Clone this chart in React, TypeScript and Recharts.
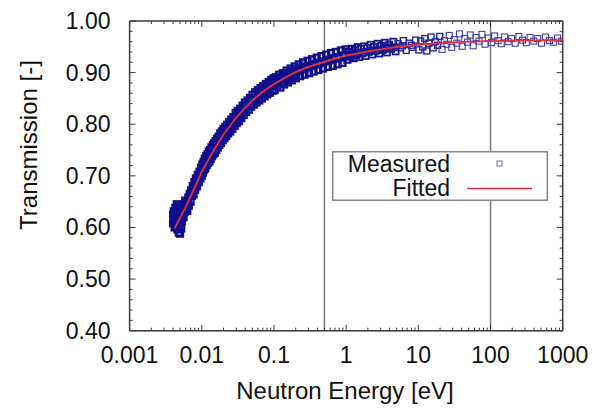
import { ScatterChart, Scatter, XAxis, YAxis, ReferenceLine, Legend } from "recharts"

// measured transmission points [energy eV, transmission]
const measuredLowE: [number, number][] = [
  [0.004, 0.625], [0.004, 0.608], [0.0041, 0.631], [0.0041, 0.615], [0.0042, 0.6], [0.0042, 0.622],
  [0.0043, 0.638], [0.0043, 0.611], [0.0044, 0.603], [0.0044, 0.628], [0.0045, 0.645], [0.0045, 0.617],
  [0.0046, 0.596], [0.0046, 0.633], [0.0047, 0.609], [0.0047, 0.641], [0.0048, 0.59], [0.0048, 0.624],
  [0.0049, 0.602], [0.0049, 0.637], [0.005, 0.588], [0.005, 0.615], [0.0051, 0.63], [0.0052, 0.598],
  [0.0052, 0.642], [0.0053, 0.612], [0.0054, 0.626], [0.0055, 0.638], [0.0056, 0.62], [0.0057, 0.645],
  [0.0058, 0.63], [0.0059, 0.652], [0.006, 0.636], [0.0062, 0.648], [0.0063, 0.632], [0.0065, 0.658],
  [0.0066, 0.642], [0.0068, 0.665], [0.007, 0.65], [0.0071, 0.672], [0.0073, 0.661], [0.0075, 0.68],
  [0.0077, 0.664], [0.0079, 0.688], [0.0081, 0.673], [0.0083, 0.695], [0.0086, 0.68], [0.0088, 0.702],
  [0.0091, 0.688], [0.0093, 0.708], [0.0096, 0.695], [0.0098, 0.716],
]

const measuredCore: [number, number][] = [
  [0.0044, 0.61], [0.0051, 0.618], [0.0058, 0.637], [0.0064, 0.649], [0.0072, 0.662], [0.008, 0.676],
  [0.0089, 0.694], [0.0097, 0.703], [0.0109, 0.721], [0.0121, 0.728], [0.0134, 0.742], [0.0149, 0.749],
  [0.0165, 0.764], [0.0183, 0.77], [0.0203, 0.783], [0.0228, 0.789], [0.0252, 0.8], [0.028, 0.806],
  [0.031, 0.816], [0.0345, 0.822], [0.0385, 0.831], [0.043, 0.836], [0.048, 0.845], [0.054, 0.849],
  [0.061, 0.857], [0.069, 0.861], [0.078, 0.869], [0.087, 0.872], [0.097, 0.879],
  [0.11, 0.883], [0.125, 0.887], [0.142, 0.893], [0.16, 0.896], [0.18, 0.9], [0.205, 0.903],
  [0.235, 0.906], [0.27, 0.91], [0.31, 0.913], [0.36, 0.915], [0.42, 0.918], [0.49, 0.922],
  [0.57, 0.923], [0.66, 0.927], [0.78, 0.928], [0.92, 0.932], [1.1, 0.934], [1.35, 0.937],
  [1.7, 0.939], [2.2, 0.943], [2.8, 0.944], [3.6, 0.948], [4.7, 0.949], [6.0, 0.952], [8.0, 0.953],
]

const measuredMidE: [number, number][] = [
  [0.01, 0.7], [0.0102, 0.722], [0.0104, 0.706], [0.0106, 0.727], [0.0108, 0.712], [0.011, 0.733],
  [0.0112, 0.715], [0.0115, 0.738], [0.0117, 0.721], [0.012, 0.742], [0.0122, 0.725], [0.0125, 0.747],
  [0.0128, 0.728], [0.013, 0.75], [0.0133, 0.733], [0.0136, 0.755], [0.0139, 0.738], [0.0142, 0.759],
  [0.0145, 0.742], [0.0148, 0.763], [0.0152, 0.745], [0.0155, 0.767], [0.0159, 0.75], [0.0163, 0.772],
  [0.0167, 0.755], [0.0171, 0.776], [0.0175, 0.76], [0.018, 0.782], [0.0185, 0.764], [0.019, 0.786],
  [0.0195, 0.769], [0.02, 0.791], [0.0206, 0.773], [0.0212, 0.795], [0.0218, 0.777], [0.0225, 0.799],
  [0.0232, 0.782], [0.024, 0.804], [0.0248, 0.786], [0.0256, 0.809], [0.0265, 0.791], [0.0275, 0.814],
  [0.0285, 0.797], [0.0295, 0.822], [0.0305, 0.802], [0.0316, 0.826], [0.0328, 0.806], [0.034, 0.83],
  [0.0353, 0.812], [0.0367, 0.836], [0.0381, 0.818], [0.0396, 0.842], [0.0412, 0.824], [0.043, 0.846],
  [0.0448, 0.828], [0.0466, 0.851], [0.0485, 0.834], [0.0505, 0.857], [0.0527, 0.838], [0.055, 0.862],
  [0.0573, 0.842], [0.0598, 0.866], [0.0624, 0.846], [0.0651, 0.87], [0.068, 0.85], [0.071, 0.874],
  [0.0741, 0.854], [0.0773, 0.878], [0.0807, 0.858], [0.0843, 0.882], [0.088, 0.861], [0.0918, 0.886],
  [0.0958, 0.865], [0.099, 0.889],
]

const measuredHighE: [number, number][] = [
  [0.102, 0.866], [0.106, 0.891], [0.11, 0.873], [0.114, 0.88], [0.118, 0.896], [0.123, 0.871],
  [0.128, 0.887], [0.133, 0.899], [0.138, 0.877], [0.144, 0.892], [0.15, 0.904], [0.156, 0.881],
  [0.163, 0.895], [0.17, 0.908], [0.177, 0.885], [0.185, 0.9], [0.193, 0.912], [0.201, 0.889],
  [0.21, 0.903], [0.22, 0.916], [0.23, 0.893], [0.241, 0.908], [0.253, 0.92], [0.265, 0.896],
  [0.278, 0.911], [0.292, 0.923], [0.306, 0.899], [0.321, 0.913], [0.337, 0.926], [0.354, 0.902],
  [0.372, 0.916], [0.391, 0.929], [0.411, 0.905], [0.432, 0.919], [0.455, 0.932], [0.478, 0.908],
  [0.503, 0.922], [0.53, 0.935], [0.558, 0.911], [0.587, 0.925], [0.618, 0.938], [0.651, 0.913],
  [0.686, 0.928], [0.722, 0.94], [0.76, 0.916], [0.8, 0.93], [0.843, 0.943], [0.888, 0.919],
  [0.935, 0.933], [0.985, 0.945],
  [1.04, 0.925], [1.09, 0.94], [1.14, 0.931], [1.2, 0.946], [1.26, 0.928], [1.32, 0.943],
  [1.38, 0.934], [1.45, 0.949], [1.52, 0.93], [1.6, 0.946], [1.68, 0.937], [1.77, 0.951],
  [1.86, 0.932], [1.96, 0.948], [2.06, 0.94], [2.18, 0.954], [2.3, 0.935], [2.43, 0.95],
  [2.57, 0.942], [2.72, 0.956], [2.88, 0.937], [3.05, 0.952], [3.24, 0.944], [3.45, 0.958],
  [3.68, 0.939], [3.93, 0.954], [4.2, 0.946], [4.5, 0.96], [4.85, 0.941], [5.25, 0.956],
  [5.7, 0.948], [6.2, 0.962], [6.8, 0.943], [7.5, 0.957], [8.3, 0.949], [9.2, 0.963],
]

const measuredTail: [number, number][] = [
  [10.2, 0.944], [10.8, 0.961], [11.5, 0.95], [12.3, 0.966], [13.1, 0.942], [14.0, 0.957],
  [15.0, 0.969], [16.0, 0.948], [17.2, 0.96], [18.5, 0.953], [19.8, 0.97], [21.3, 0.945],
  [23.0, 0.962], [24.8, 0.955], [26.8, 0.972], [29.0, 0.949], [31.5, 0.964], [34.2, 0.957],
  [37.2, 0.975], [40.5, 0.951], [44.0, 0.966], [48.0, 0.959], [52.5, 0.973], [57.5, 0.952],
  [63.0, 0.968], [69.0, 0.961], [76.0, 0.974], [84.0, 0.955], [93.0, 0.967], [103, 0.958],
  [114, 0.971], [127, 0.962], [141, 0.956], [157, 0.969], [175, 0.96], [196, 0.966],
  [220, 0.957], [247, 0.97], [278, 0.963], [313, 0.958], [353, 0.968], [398, 0.961],
  [450, 0.966], [510, 0.957], [578, 0.969], [655, 0.962], [745, 0.959], [848, 0.967], [965, 0.961],
]

// fitted curve
const fittedEnergy = [
  0.0042, 0.005, 0.006, 0.007, 0.008, 0.009, 0.01, 0.012, 0.015, 0.02, 0.025, 0.03, 0.04, 0.05,
  0.07, 0.1, 0.15, 0.2, 0.3, 0.5, 0.7, 1, 2, 3, 5, 10, 20, 50, 100, 300, 1000,
]
const fittedTrans = [
  0.598, 0.619, 0.64, 0.66, 0.678, 0.694, 0.708, 0.728, 0.752, 0.78, 0.798, 0.813, 0.832, 0.846,
  0.863, 0.878, 0.892, 0.901, 0.911, 0.921, 0.927, 0.933, 0.941, 0.945, 0.95, 0.954, 0.957, 0.96,
  0.961, 0.962, 0.963,
]

const xMajorTicks = [0.001, 0.01, 0.1, 1, 10, 100, 1000]
const xTickLabels = ["0.001", "0.01", "0.1", "1", "10", "100", "1000"]
const yMajorTicks = [0.4, 0.5, 0.6, 0.7, 0.8, 0.9, 1.0]
const yTickLabels = ["0.40", "0.50", "0.60", "0.70", "0.80", "0.90", "1.00"]
const yMinorTicks = [
  0.42, 0.44, 0.46, 0.48, 0.52, 0.54, 0.56, 0.58, 0.62, 0.64, 0.66, 0.68,
  0.72, 0.74, 0.76, 0.78, 0.82, 0.84, 0.86, 0.88, 0.92, 0.94, 0.96, 0.98,
]
const markerEnergies = [0.5, 100]

const xMinorTicks: number[] = []
xMajorTicks.slice(0, -1).forEach((d) => {
  for (let k = 2; k <= 9; k++) xMinorTicks.push(d * k)
})

const measured = [...measuredLowE, ...measuredCore, ...measuredMidE, ...measuredHighE, ...measuredTail].map(
  ([e, t]) => ({ e, t }),
)
const fitted = fittedEnergy.map((e, i) => ({ e, t: fittedTrans[i] }))

const FONT = "'Liberation Sans', Arial, Helvetica, sans-serif"
const FRAME = "#3a3a3a"
const RED = "#e8303c"

const majorIndex = (list: number[], v: number) => list.findIndex((t) => Math.abs(t - v) / t < 1e-6)

const BottomTick = (props: any) => {
  const { x, y, payload } = props
  const i = majorIndex(xMajorTicks, payload.value)
  return (
    <g>
      <line x1={x} x2={x} y1={y} y2={y - (i >= 0 ? 6 : 3)} stroke={FRAME} strokeWidth={1} />
      {i >= 0 && (
        <text x={x} y={y + 32} textAnchor="middle" fontSize={23} fill="#111" fontFamily={FONT}>
          {xTickLabels[i]}
        </text>
      )}
    </g>
  )
}

const TopTick = (props: any) => {
  const { x, y, payload } = props
  const major = majorIndex(xMajorTicks, payload.value) >= 0
  return <line x1={x} x2={x} y1={y} y2={y + (major ? 6 : 3)} stroke={FRAME} strokeWidth={1} />
}

const LeftTick = (props: any) => {
  const { x, y, payload } = props
  const i = majorIndex(yMajorTicks, payload.value)
  return (
    <g>
      <line x1={x} x2={x + (i >= 0 ? 6 : 3)} y1={y} y2={y} stroke={FRAME} strokeWidth={1} />
      {i >= 0 && (
        <text x={x - 19} y={y + 8} textAnchor="end" fontSize={23} fill="#111" fontFamily={FONT}>
          {yTickLabels[i]}
        </text>
      )}
    </g>
  )
}

const RightTick = (props: any) => {
  const { x, y, payload } = props
  const major = majorIndex(yMajorTicks, payload.value) >= 0
  return <line x1={x} x2={x - (major ? 6 : 3)} y1={y} y2={y} stroke={FRAME} strokeWidth={1} />
}

// dense part of the band reads as solid navy, thinning into open squares at high energy
const Square = (props: any) => {
  const { cx, cy, payload } = props
  if (cx == null || cy == null) return <g />
  const e = payload ? payload.e : 1
  let stroke = "#0e0e8a"
  let sw = 2.2
  if (e > 20) {
    stroke = "#4040aa"
    sw = 1.1
  } else if (e > 5) {
    stroke = "#28289c"
    sw = 1.4
  } else if (e > 1.5) {
    stroke = "#18188f"
    sw = 1.8
  }
  return <rect x={cx - 3} y={cy - 3} width={6} height={6} fill="none" stroke={stroke} strokeWidth={sw} />
}

const LegendBox = () => (
  <svg width={216} height={50} style={{ display: "block" }}>
    <rect x={0.75} y={0.75} width={214.5} height={48.5} fill="#fff" stroke="#888" strokeWidth={1.5} />
    <text x={118} y={21} textAnchor="end" fontSize={23} fill="#111" fontFamily={FONT}>
      Measured
    </text>
    <rect x={165} y={10} width={5} height={5} fill="none" stroke="#6a6ab8" strokeWidth={1} />
    <text x={118} y={44.5} textAnchor="end" fontSize={23} fill="#111" fontFamily={FONT}>
      Fitted
    </text>
    <line x1={135} x2={200} y1={37.5} y2={37.5} stroke={RED} strokeWidth={1.5} />
  </svg>
)

export default function App() {
  const allX = [...xMajorTicks, ...xMinorTicks]
  const allY = [...yMajorTicks, ...yMinorTicks]
  return (
    <div style={{ position: "absolute", left: 0, top: 0, width: 596, height: 412, background: "#fff" }}>
      <ScatterChart width={596} height={412} margin={{ top: 20, right: 32.3, bottom: 0, left: 0 }}>
        <XAxis
          xAxisId="x"
          dataKey="e"
          type="number"
          scale="log"
          domain={[0.001, 1000]}
          allowDataOverflow
          ticks={allX}
          interval={0}
          tick={<BottomTick />}
          tickLine={false}
          tickSize={0}
          tickMargin={0}
          height={81.3}
          axisLine={{ stroke: FRAME, strokeWidth: 1.5 }}
          label={{
            content: () => (
              <text x={345} y={399} textAnchor="middle" fontSize={24} fill="#111" fontFamily={FONT}>
                Neutron Energy [eV]
              </text>
            ),
          }}
        />
        <XAxis
          xAxisId="top"
          orientation="top"
          dataKey="e"
          type="number"
          scale="log"
          domain={[0.001, 1000]}
          allowDataOverflow
          ticks={allX}
          interval={0}
          tick={<TopTick />}
          tickLine={false}
          tickSize={0}
          tickMargin={0}
          height={1}
          axisLine={{ stroke: FRAME, strokeWidth: 1.5 }}
        />
        <YAxis
          yAxisId="y"
          dataKey="t"
          type="number"
          domain={[0.4, 1.0]}
          allowDataOverflow
          ticks={allY}
          interval={0}
          tick={<LeftTick />}
          tickLine={false}
          tickSize={0}
          tickMargin={0}
          width={129.6}
          axisLine={{ stroke: FRAME, strokeWidth: 1.5 }}
          label={{
            content: () => (
              <text
                x={28}
                y={145}
                transform="rotate(-90 28 145)"
                textAnchor="middle"
                dominantBaseline="central"
                fontSize={24}
                fill="#111"
                fontFamily={FONT}
              >
                Transmission [-]
              </text>
            ),
          }}
        />
        <YAxis
          yAxisId="right"
          orientation="right"
          dataKey="t"
          type="number"
          domain={[0.4, 1.0]}
          allowDataOverflow
          ticks={allY}
          interval={0}
          tick={<RightTick />}
          tickLine={false}
          tickSize={0}
          tickMargin={0}
          width={1}
          axisLine={{ stroke: FRAME, strokeWidth: 1.5 }}
        />
        {markerEnergies.map((e) => (
          <ReferenceLine key={e} x={e} xAxisId="x" yAxisId="y" stroke="#7a7a7a" strokeWidth={1.5} />
        ))}
        <Scatter
          name="Measured"
          data={measured}
          xAxisId="x"
          yAxisId="y"
          shape={<Square />}
          isAnimationActive={false}
        />
        <Scatter
          name="Fitted"
          data={fitted}
          xAxisId="x"
          yAxisId="y"
          line={{ stroke: RED, strokeWidth: 1.8 }}
          shape={() => <g />}
          isAnimationActive={false}
        />
        <Legend
          layout="horizontal"
          verticalAlign="middle"
          align="center"
          wrapperStyle={{ left: 331.7, top: 150.7, width: 216, height: 50 }}
          content={() => <LegendBox />}
        />
      </ScatterChart>
    </div>
  )
}
